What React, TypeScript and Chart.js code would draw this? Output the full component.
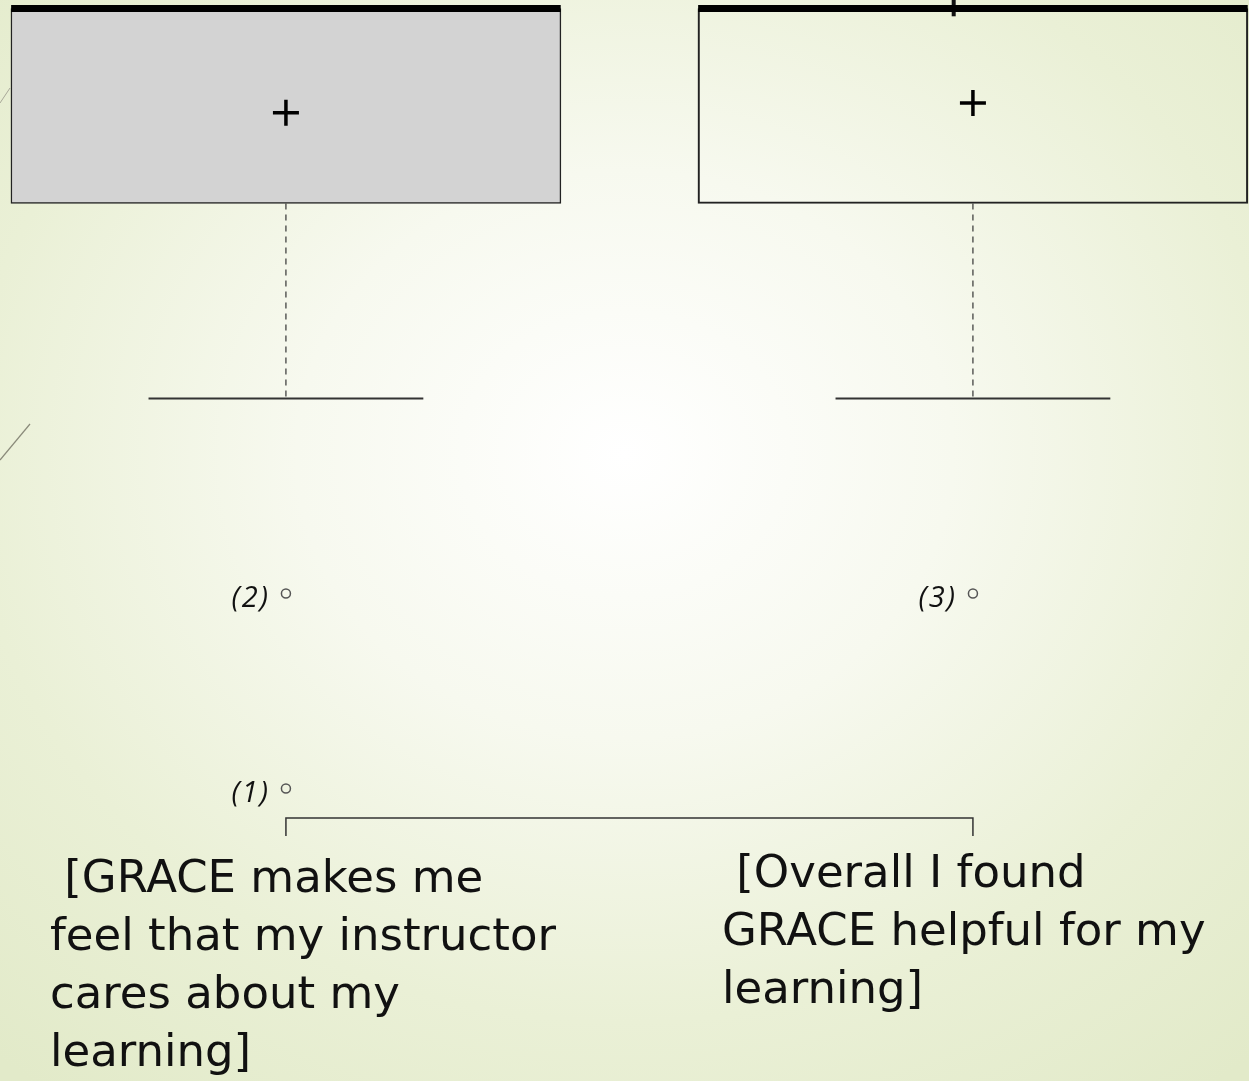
import React, { useEffect, useRef } from "react";
import { Chart, registerables } from "chart.js";

Chart.register(...registerables);

// ---- data ----
const categories: string[][] = [
  [" [GRACE makes me", "feel that my instructor", "cares about my", "learning]"],
  [" [Overall I found", "GRACE helpful for my", "learning]"],
];
const positions = [1, 2];
const q1Values = [4, 4];
const q3Values = [5, 5];
const medianValues = [5, 5];
const meanValues = [4.465, 4.515];
const whiskerLow = [3, 3];
const outlierX = [1, 1, 2];
const outlierY = [2, 1, 2];
const outlierLabels = ["(2)", "(1)", "(3)"];
const upperTickX = [1.972];
const upperTickY = [4.96, 5.08];
const bracketY = [0.757, 0.849];

const W = 1249;
const H = 1081;

const outlierLabelPlugin = {
  id: "outlierLabels",
  afterDatasetsDraw(chart: any) {
    const { ctx, scales } = chart;
    ctx.save();
    ctx.font = "italic 29px 'Open Sans', sans-serif";
    ctx.fillStyle = "#111";
    ctx.textAlign = "right";
    ctx.textBaseline = "middle";
    try {
      (ctx as any).letterSpacing = "2px";
    } catch (e) {}
    outlierLabels.forEach((lab, i) => {
      const px = scales.x.getPixelForValue(outlierX[i]);
      const py = scales.y.getPixelForValue(outlierY[i]);
      ctx.fillText(lab, px - 16, py + 5);
    });
    ctx.restore();
  },
};

export default function App() {
  const ref = useRef<HTMLCanvasElement>(null);

  useEffect(() => {
    if (!ref.current) return;
    const line = (data: any[], extra: any = {}) => ({
      type: "line",
      data,
      borderColor: "#222",
      borderWidth: 1.5,
      pointRadius: 0,
      fill: false,
      tension: 0,
      order: 1,
      ...extra,
    });
    const datasets: any[] = [
      {
        type: "bar",
        data: positions.map((p, i) => ({ x: p, y: [q1Values[i], q3Values[i]] })),
        backgroundColor: ["#d3d3d3", "rgba(0,0,0,0)"],
        borderColor: "#222",
        borderWidth: 1.5,
        borderSkipped: false,
        barThickness: 550,
        grouped: false,
        order: 10,
      },
      ...positions.map((p, i) =>
        line(
          [
            { x: p - 0.4, y: medianValues[i] },
            { x: p + 0.4, y: medianValues[i] },
          ],
          { borderWidth: 7, borderColor: "#000" }
        )
      ),
      ...positions.map((p, i) =>
        line(
          [
            { x: p, y: q1Values[i] },
            { x: p, y: whiskerLow[i] },
          ],
          { borderDash: [6, 5], borderWidth: 1.2, borderColor: "#333" }
        )
      ),
      ...positions.map((p, i) =>
        line(
          [
            { x: p - 0.2, y: whiskerLow[i] },
            { x: p + 0.2, y: whiskerLow[i] },
          ],
          { borderWidth: 2, borderColor: "#333" }
        )
      ),
      line(
        [
          { x: upperTickX[0], y: upperTickY[0] },
          { x: upperTickX[0], y: upperTickY[1] },
        ],
        { borderWidth: 4, borderColor: "#111" }
      ),
      line(
        [
          { x: positions[0], y: bracketY[0] },
          { x: positions[0], y: bracketY[1] },
          { x: positions[1], y: bracketY[1] },
          { x: positions[1], y: bracketY[0] },
        ],
        { borderWidth: 1.5, borderColor: "#333" }
      ),
      {
        type: "scatter",
        data: positions.map((p, i) => ({ x: p, y: meanValues[i] })),
        pointStyle: "cross",
        pointRadius: 13,
        borderWidth: 3.5,
        borderColor: "#000",
        backgroundColor: "#000",
        order: 0,
      },
      {
        type: "scatter",
        data: outlierX.map((x, i) => ({ x, y: outlierY[i] })),
        pointStyle: "circle",
        pointRadius: 4.5,
        borderWidth: 1.5,
        borderColor: "#555",
        backgroundColor: "rgba(0,0,0,0)",
        order: 0,
      },
    ];

    const chart = new Chart(ref.current, {
      type: "bar",
      data: { datasets },
      options: {
        animation: false,
        responsive: false,
        maintainAspectRatio: false,
        layout: { padding: 0, autoPadding: false },
        plugins: { legend: { display: false }, tooltip: { enabled: false } },
        scales: {
          x: {
            type: "linear",
            offset: false,
            min: 0.5838,
            max: 0.5838 + W / 687,
            display: false,
          },
          y: {
            type: "linear",
            min: 5.0436 - H / 195,
            max: 5.0436,
            display: false,
          },
        },
      },
      plugins: [outlierLabelPlugin],
    } as any);
    return () => chart.destroy();
  }, []);

  const labelStyle = (left: number, top: number): React.CSSProperties => ({
    position: "absolute",
    left,
    top,
    fontFamily: "'DejaVu Sans', sans-serif",
    fontSize: 45,
    lineHeight: "58px",
    color: "#111",
    whiteSpace: "pre",
  });

  return (
    <div
      style={{
        position: "absolute",
        left: 0,
        top: 0,
        width: W,
        height: H,
        overflow: "hidden",
        background:
          "radial-gradient(ellipse 75% 75% at 50% 42%, #ffffff 0%, #f7f9ef 35%, #eaf0d6 70%, #e2eac9 100%)",
      }}
    >
      <svg
        width={W}
        height={H}
        style={{ position: "absolute", left: 0, top: 0 }}
      >
        <line x1={0} y1={103} x2={10} y2={88} stroke="#a8a898" strokeWidth={1} />
        <line x1={0} y1={460} x2={30} y2={424} stroke="#8a8a7a" strokeWidth={1.2} />
      </svg>
      <canvas
        ref={ref}
        width={W}
        height={H}
        style={{ position: "absolute", left: 0, top: 0, width: W, height: H }}
      />
      <div style={labelStyle(50, 848)}>{categories[0].join("\n")}</div>
      <div style={labelStyle(722, 843)}>{categories[1].join("\n")}</div>
    </div>
  );
}
